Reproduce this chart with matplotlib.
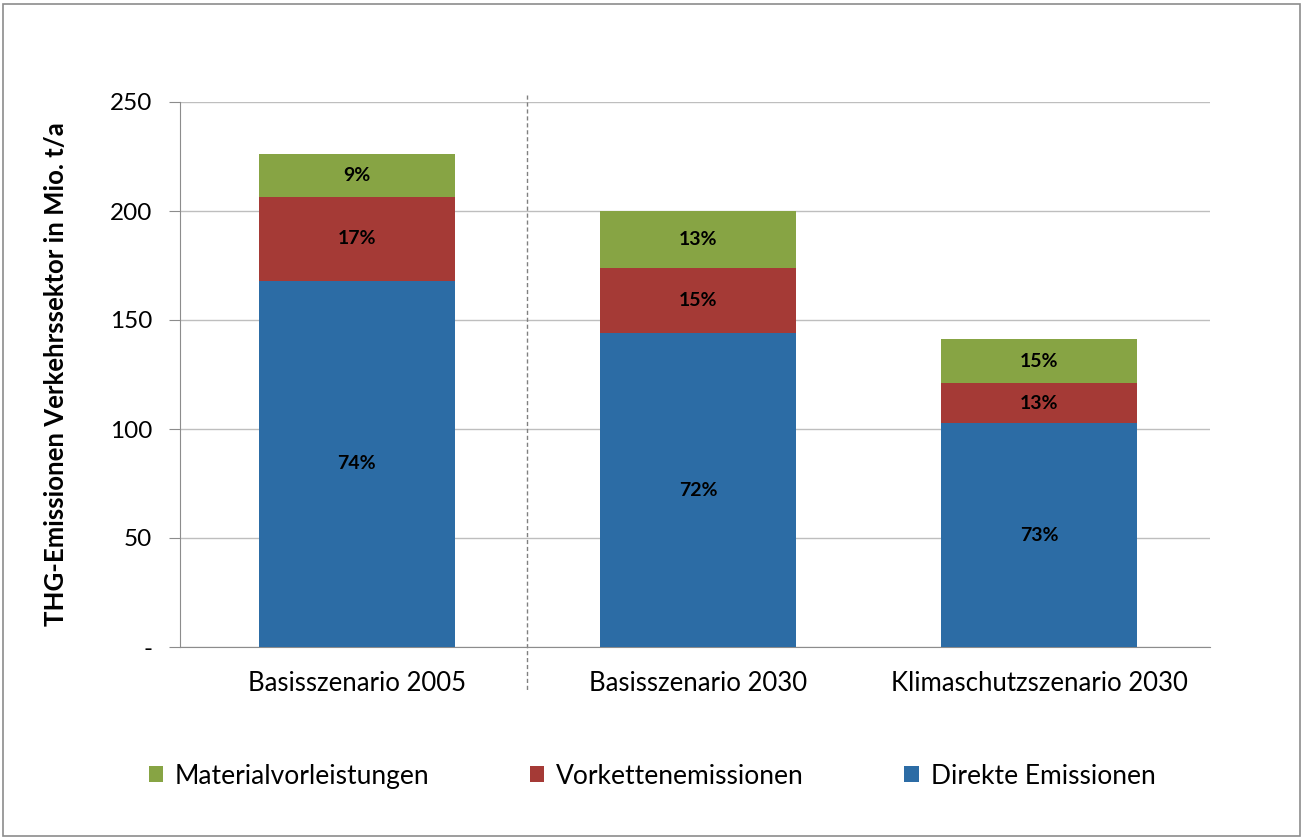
import matplotlib
matplotlib.use("Agg")
import matplotlib.pyplot as plt
from matplotlib.patches import Rectangle
import numpy as np

plt.rcParams['font.family'] = ['Lato', 'DejaVu Sans']

categories = ["Basisszenario 2005", "Basisszenario 2030", "Klimaschutzszenario 2030"]
direkte = [168.0, 144.0, 102.6]
vorkette = [38.5, 30.0, 18.4]
material = [19.7, 26.0, 20.3]
pct_direkte = ["74%", "72%", "73%"]
pct_vorkette = ["17%", "15%", "13%"]
pct_material = ["9%", "13%", "15%"]
series_names = ["Materialvorleistungen", "Vorkettenemissionen", "Direkte Emissionen"]
yticks = [0, 50, 100, 150, 200, 250]
yticklabels = ["-", "50", "100", "150", "200", "250"]

c_blue = "#2C6CA5"
c_red = "#A53A36"
c_green = "#87A444"

fig = plt.figure(figsize=(13.03, 8.38), dpi=100)
# outer border
fig.patches.append(Rectangle((0.002, 0.002), 0.996, 0.993, transform=fig.transFigure,
                             fill=False, edgecolor="#8C8C8C", linewidth=1.2))
ax = fig.add_axes([180/1303, 1-647/838, (1210-180)/1303, (647-102)/838])

x = np.arange(len(categories))
w = 0.574
d = np.array(direkte)
v = np.array(vorkette)
m = np.array(material)
ax.bar(x, d, w, color=c_blue, zorder=3, label=series_names[2])
ax.bar(x, v, w, bottom=d, color=c_red, zorder=3, label=series_names[1])
ax.bar(x, m, w, bottom=d+v, color=c_green, zorder=3, label=series_names[0])

lab_kw = dict(ha="center", va="center", fontsize=14, fontweight="bold", color="black", zorder=4)
for i in range(len(categories)):
    ax.text(x[i], d[i]/2, pct_direkte[i], **lab_kw)
    ax.text(x[i], d[i] + v[i]/2, pct_vorkette[i], **lab_kw)
    ax.text(x[i], d[i] + v[i] + m[i]/2, pct_material[i], **lab_kw)

ax.set_xlim(-0.518, 2.5)
ax.set_ylim(0, 250)
ax.set_yticks(yticks)
ax.set_yticklabels(yticklabels, fontsize=17.5)
ax.set_xticks(x)
ax.set_xticklabels(categories, fontsize=18.5)
ax.tick_params(axis='x', length=0, pad=17)
ax.tick_params(axis='y', length=8, direction='out', color="#8C8C8C", pad=12)
ax.yaxis.grid(True, color="#BEBEBE", linewidth=1.0, zorder=0)
ax.set_axisbelow(True)
for s in ["top", "right"]:
    ax.spines[s].set_visible(False)
ax.spines["left"].set_color("#8C8C8C")
ax.spines["bottom"].set_color("#8C8C8C")

ax.plot([0.5, 0.5], [253.2, -19.7], color="#808080", linestyle=(0, (3, 2)),
        linewidth=1.0, clip_on=False, zorder=2)

ax.set_ylabel("THG-Emissionen Verkehrssektor in Mio. t/a", fontsize=18.5, fontweight="bold",
              labelpad=30)

handles, labels = ax.get_legend_handles_labels()
order = [2, 1, 0]
leg = fig.legend([handles[i] for i in order], [labels[i] for i in order],
                 loc="center", bbox_to_anchor=(652/1303, 1-776/838), ncol=3, frameon=False,
                 fontsize=19, handlelength=0.55, handleheight=0.55, handletextpad=0.45,
                 columnspacing=3.8)

fig.savefig("out.png", dpi=100)
